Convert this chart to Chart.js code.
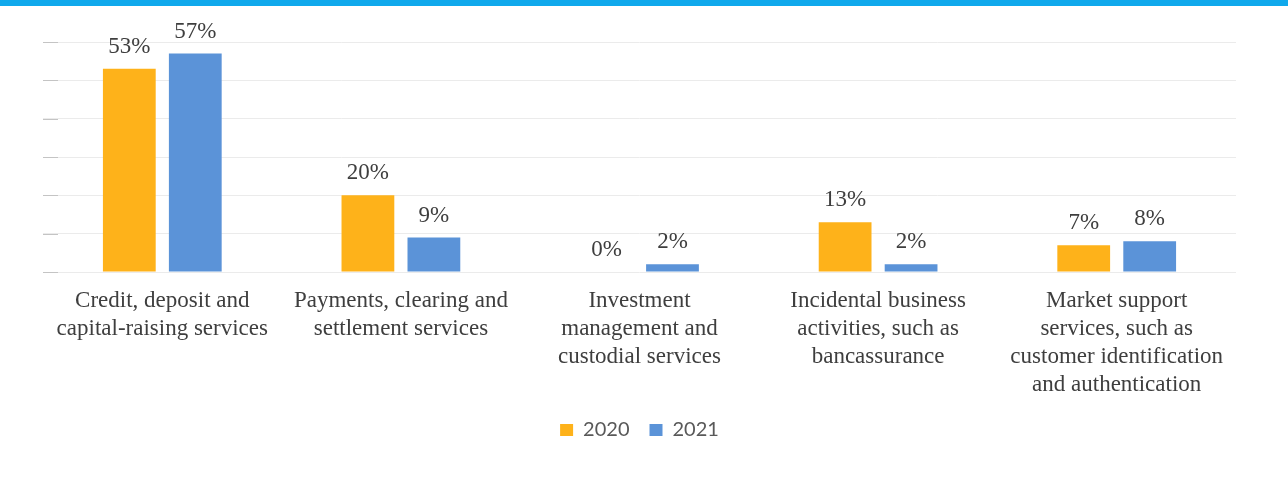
<!DOCTYPE html>
<html>
<head>
<meta charset="utf-8">
<script src="https://cdn.jsdelivr.net/npm/chart.js@4.4.0/dist/chart.umd.min.js"></script>
<style>
    html, body {
        margin: 0;
        padding: 0;
        background: #fff;
    }
    .wrap {
        position: relative;
        width: 1288px;
        height: 483px;
        overflow: hidden;
    }
    .top-strip {
        position: absolute;
        left: 0;
        top: 0;
        width: 1288px;
        height: 6px;
        background: #10a9ec;
    }
    canvas {
        display: block;
    }
</style>
</head>
<body>
<div class="wrap">
    <canvas id="chart" width="1288" height="483"></canvas>
    <div class="top-strip"></div>
</div>
<script>
// --- Data ---
const categories = [
    ["Credit, deposit and", "capital-raising services"],
    ["Payments, clearing and", "settlement services"],
    ["Investment", "management and", "custodial services"],
    ["Incidental business", "activities, such as", "bancassurance"],
    ["Market support", "services, such as", "customer identification", "and authentication"]
];
const seriesNames = ["2020", "2021"];
const values2020 = [53, 20, 0, 13, 7];
const values2021 = [57, 9, 2, 2, 8];
const yTicks = [0, 10, 20, 30, 40, 50, 60];

const colors = ["#feb21a", "#5b93d8"];
const serif = "'Liberation Serif', 'Times New Roman', serif";

// Value labels above each bar
const barLabels = {
    id: 'barLabels',
    afterDatasetsDraw(chart) {
        const ctx = chart.ctx;
        ctx.save();
        ctx.font = "23px " + serif;
        ctx.fillStyle = "#3e3e3e";
        ctx.textAlign = "center";
        ctx.textBaseline = "alphabetic";
        chart.data.datasets.forEach((ds, i) => {
            chart.getDatasetMeta(i).data.forEach((bar, j) => {
                ctx.fillText(Math.round(ds.data[j]) + "%", bar.x, bar.y - 16);
            });
        });
        ctx.restore();
    }
};

// Short tick marks on the left of the value axis
const axisTicks = {
    id: 'axisTicks',
    afterDraw(chart) {
        const ctx = chart.ctx;
        const y = chart.scales.y;
        const left = chart.chartArea.left;
        ctx.save();
        ctx.strokeStyle = "#c4c4c4";
        ctx.lineWidth = 1;
        yTicks.forEach(t => {
            const py = Math.round(y.getPixelForValue(t)) + 0.5;
            ctx.beginPath();
            ctx.moveTo(left, py);
            ctx.lineTo(left + 15, py);
            ctx.stroke();
        });
        ctx.restore();
    }
};

new Chart(document.getElementById('chart'), {
    type: 'bar',
    data: {
        labels: categories,
        datasets: [
            { label: seriesNames[0], data: values2020, backgroundColor: colors[0] },
            { label: seriesNames[1], data: values2021, backgroundColor: colors[1] }
        ]
    },
    options: {
        responsive: false,
        animation: false,
        devicePixelRatio: 1,
        layout: {
            padding: { left: 43, right: 52, top: 42, bottom: 33 }
        },
        datasets: {
            bar: { categoryPercentage: 0.553, barPercentage: 0.8 }
        },
        plugins: {
            legend: {
                display: true,
                position: 'bottom',
                labels: {
                    boxWidth: 13,
                    boxHeight: 12,
                    padding: 20,
                    color: "#595959",
                    font: { family: "Lato, 'Noto Sans', sans-serif", size: 20 }
                }
            },
            tooltip: { enabled: false }
        },
        scales: {
            x: {
                grid: { display: false },
                border: { display: false },
                afterFit(scale) {
                    scale.height = 128;
                },
                ticks: {
                    padding: 7,
                    color: "#3e3e3e",
                    font: { family: serif, size: 23, lineHeight: 1.217 },
                    maxRotation: 0,
                    autoSkip: false
                }
            },
            y: {
                min: 0,
                max: 60,
                border: { display: false },
                grid: { color: "#ebebeb", drawTicks: false },
                ticks: { display: false, stepSize: 10 }
            }
        }
    },
    plugins: [barLabels, axisTicks]
});
</script>
</body>
</html>
